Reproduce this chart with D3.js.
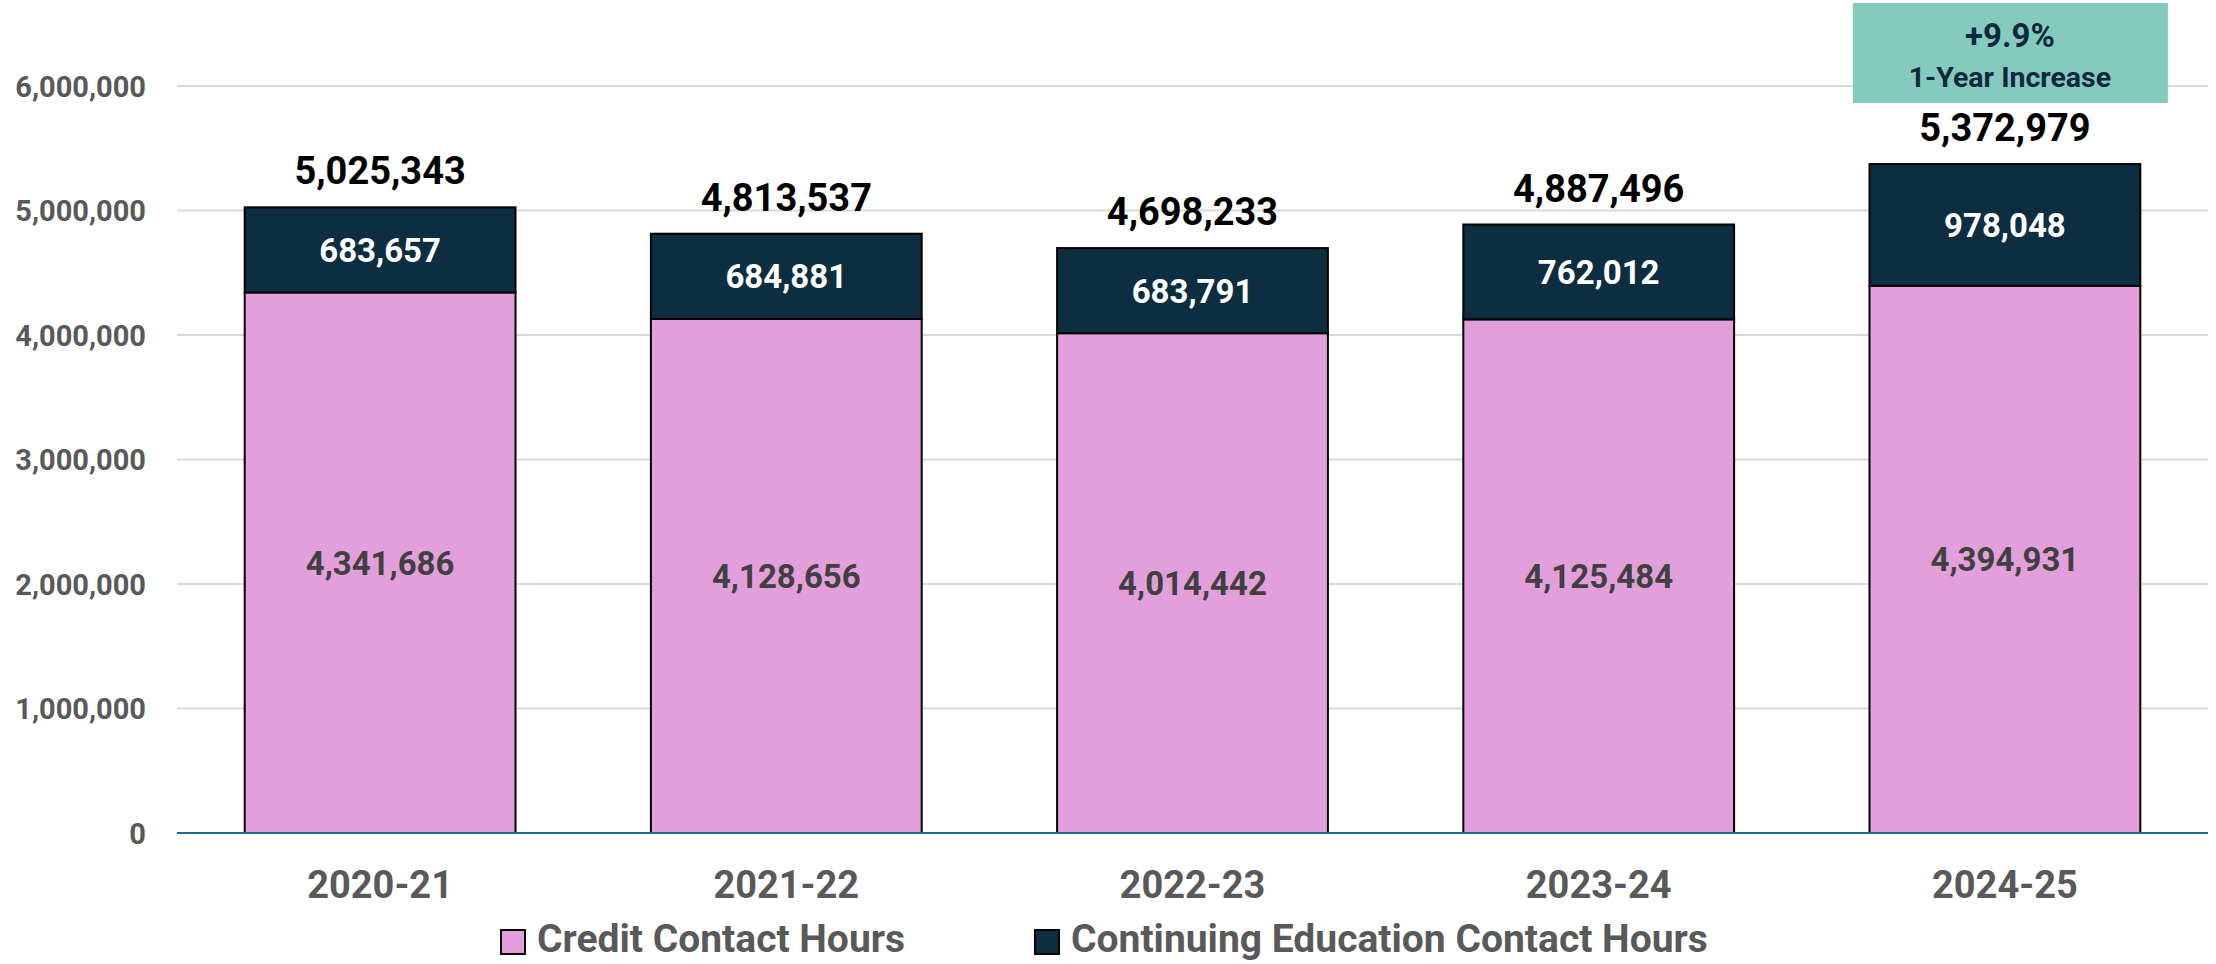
<!DOCTYPE html>
<html>
<head>
<meta charset="utf-8">
<script src="https://cdn.jsdelivr.net/npm/d3@7"></script>
<style>
  body { margin: 0; background: #ffffff; }
  svg text { font-family: Roboto, "Liberation Sans", Arial, sans-serif; font-weight: bold; }
</style>
</head>
<body>
<div id="chart"></div>
<script>
// chart data
var years = ["2020-21", "2021-22", "2022-23", "2023-24", "2024-25"];
var creditHours = [4341686, 4128656, 4014442, 4125484, 4394931];
var ceHours = [683657, 684881, 683791, 762012, 978048];
var totals = [5025343, 4813537, 4698233, 4887496, 5372979];
var yTicks = [0, 1000000, 2000000, 3000000, 4000000, 5000000, 6000000];
var seriesNames = ["Credit Contact Hours", "Continuing Education Contact Hours"];
var calloutLines = ["+9.9%", "1-Year Increase"];

var W = 2216, H = 964;
var margin = {top: 86, right: 8, bottom: 131, left: 177};

var svg = d3.select("#chart")
  .append("svg")
    .attr("width", W)
    .attr("height", H);

var x = d3.scaleBand()
  .domain(years)
  .range([margin.left, W - margin.right])
  .paddingInner(1/3)
  .paddingOuter(1/6);

var y = d3.scaleLinear()
  .domain([0, 6000000])
  .range([H - margin.bottom, margin.top]);

var fmt = d3.format(",");

// gridlines
svg.append("g")
  .selectAll("line")
  .data(yTicks.filter(d => d > 0))
  .enter()
  .append("line")
    .attr("x1", margin.left)
    .attr("x2", W - margin.right)
    .attr("y1", d => y(d))
    .attr("y2", d => y(d))
    .style("stroke", "#d9d9d9")
    .style("stroke-width", 2);

// y axis labels
var yAxis = svg.append("g")
  .attr("transform", "translate(" + (margin.left - 31) + ",0)")
  .call(d3.axisLeft(y).tickValues(yTicks).tickFormat(fmt).tickSize(0).tickPadding(0));
yAxis.select(".domain").remove();
yAxis.selectAll("text")
  .style("font-size", "29px")
  .style("fill", "#595959")
  .attr("dy", "0.36em");

// stacked bars
var stackData = years.map((yr, i) => ({year: yr, credit: creditHours[i], ce: ceHours[i]}));
var series = d3.stack().keys(["credit", "ce"])(stackData);
var colors = {credit: "#e39fdb", ce: "#0c2e40"};

series.forEach(function(s) {
  svg.append("g")
    .selectAll("rect")
    .data(s)
    .enter()
    .append("rect")
      .attr("x", d => x(d.data.year))
      .attr("width", x.bandwidth())
      .attr("y", d => y(d[1]))
      .attr("height", d => y(d[0]) - y(d[1]))
      .style("fill", colors[s.key])
      .style("stroke", "#000")
      .style("stroke-width", 2);

  svg.append("g")
    .selectAll("text")
    .data(s)
    .enter()
    .append("text")
      .attr("x", d => x(d.data.year) + x.bandwidth() / 2)
      .attr("y", d => (y(d[0]) + y(d[1])) / 2)
      .attr("dy", "0.36em")
      .attr("text-anchor", "middle")
      .style("font-size", "33px")
      .style("fill", s.key == "ce" ? "#ffffff" : "#404040")
      .text(d => fmt(d[1] - d[0]));
});

// x axis line
svg.append("line")
  .attr("x1", margin.left)
  .attr("x2", W - margin.right)
  .attr("y1", y(0))
  .attr("y2", y(0))
  .style("stroke", "#1f6a8c")
  .style("stroke-width", 2);

// totals above bars
svg.append("g")
  .selectAll("text")
  .data(totals)
  .enter()
  .append("text")
    .attr("x", (d, i) => x(years[i]) + x.bandwidth() / 2)
    .attr("y", d => y(d) - 23)
    .attr("text-anchor", "middle")
    .style("font-size", "38px")
    .style("fill", "#000")
    .text(d => fmt(d));

// category labels
svg.append("g")
  .selectAll("text")
  .data(years)
  .enter()
  .append("text")
    .attr("x", d => x(d) + x.bandwidth() / 2)
    .attr("y", 898)
    .attr("text-anchor", "middle")
    .style("font-size", "38px")
    .style("fill", "#595959")
    .text(d => d);

// legend
var legendX = [501, 1035];
var legend = svg.append("g");
seriesNames.forEach(function(name, i) {
  legend.append("rect")
    .attr("x", legendX[i])
    .attr("y", 930)
    .attr("width", 24)
    .attr("height", 24)
    .style("fill", i == 0 ? colors.credit : colors.ce)
    .style("stroke", "#000")
    .style("stroke-width", 2);
  legend.append("text")
    .attr("x", legendX[i] + 36)
    .attr("y", 952)
    .style("font-size", "39px")
    .style("fill", "#595959")
    .text(name);
});

// callout box over last bar
var cx = x(years[4]) + x.bandwidth() / 2 + 5;
svg.append("rect")
  .attr("x", cx - 157)
  .attr("y", 3)
  .attr("width", 315)
  .attr("height", 100)
  .style("fill", "#85cbbd");
svg.append("text")
  .attr("x", cx)
  .attr("y", 47)
  .attr("text-anchor", "middle")
  .style("font-size", "33px")
  .style("fill", "#0e2841")
  .text(calloutLines[0]);
svg.append("text")
  .attr("x", cx)
  .attr("y", 87)
  .attr("text-anchor", "middle")
  .style("font-size", "28.5px")
  .style("fill", "#0e2841")
  .text(calloutLines[1]);
</script>
</body>
</html>
